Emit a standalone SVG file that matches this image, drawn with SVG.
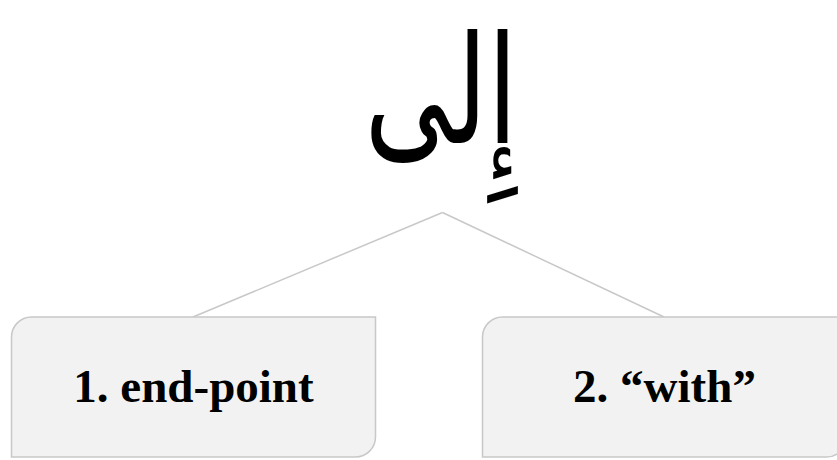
<svg xmlns="http://www.w3.org/2000/svg" width="837" height="460" viewBox="0 0 837 460">
<style>
.box{fill:#f2f2f2;stroke:#c8c8c8;stroke-width:1.5}
.lbl{font-family:"Liberation Serif",serif;font-weight:bold;font-size:47px;fill:#000;text-anchor:middle}
.conn{stroke:#c8c8c8;stroke-width:1.5;fill:none}
</style>
<g id="root">
<text transform="translate(441,143) scale(0.72,1)" x="0" y="0" font-family="DejaVu Sans, sans-serif" font-size="150" text-anchor="middle" fill="#000" direction="rtl">إِلى</text>
</g>
<g id="connectors">
<line class="conn" x1="442.5" y1="212.5" x2="193" y2="317"/>
<line class="conn" x1="442.5" y1="212.5" x2="664" y2="317"/>
</g>
<g id="node1">
<path class="box" d="M31.5 317 H375.5 V437 A20 20 0 0 1 355.5 457 H11.5 V337 A20 20 0 0 1 31.5 317 Z"/>
<text class="lbl" x="193.5" y="402">1. end-point</text>
</g>
<g id="node2">
<path class="box" d="M502.5 317 H846.5 V437 A20 20 0 0 1 826.5 457 H482.5 V337 A20 20 0 0 1 502.5 317 Z"/>
<text class="lbl" x="664.5" y="402">2. “with”</text>
</g>
</svg>
